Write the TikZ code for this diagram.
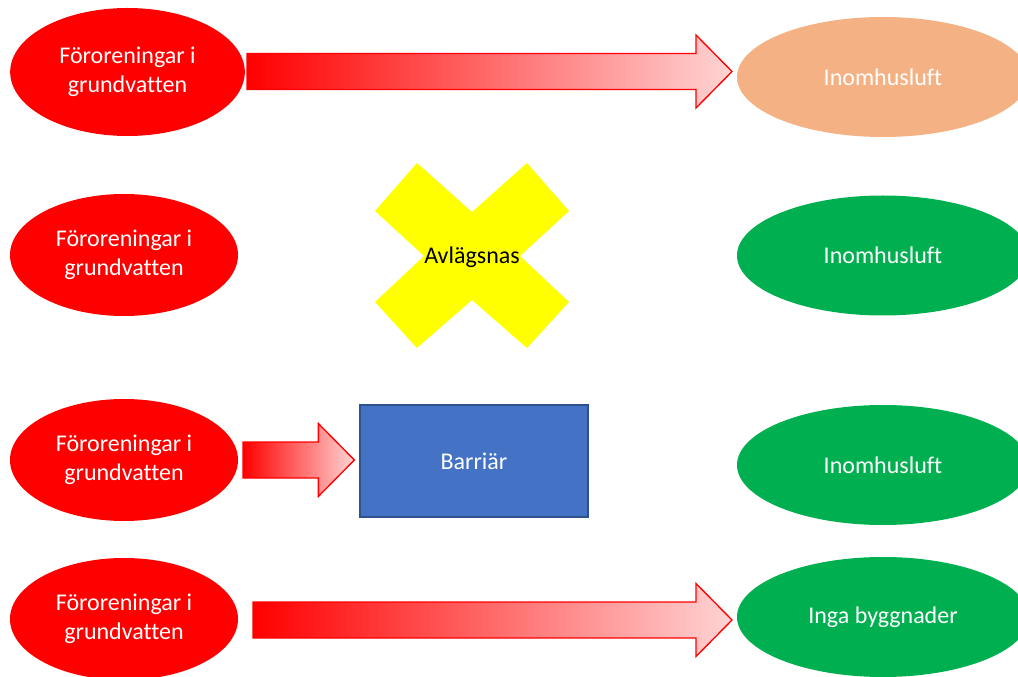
\documentclass[tikz,border=0pt]{standalone}
\usepackage{fontspec}
\setmainfont{Carlito}[Ligatures=NoCommon]
\usetikzlibrary{shapes.geometric,calc}

\definecolor{pptred}{HTML}{FF0000}
\definecolor{pptorange}{HTML}{F4B183}
\definecolor{pptgreen}{HTML}{00B050}
\definecolor{pptblue}{HTML}{4472C4}
\definecolor{pptblueline}{HTML}{2F528F}
\definecolor{pptyellow}{HTML}{FFFF00}

% block arrow from a start coordinate to a tip coordinate
\newcommand{\blockarrow}[2]{%
  \path[blockarr] ($(#1)+(0,-18)$) -- ($(#2)+(-36,-18)$) -- ($(#2)+(-36,-36.5)$) -- (#2)
    -- ($(#2)+(-36,36.5)$) -- ($(#2)+(-36,18)$) -- ($(#1)+(0,18)$) -- cycle ;}

\begin{document}
\begin{tikzpicture}[x=0.75pt,y=0.75pt,yscale=-1,xscale=1,
	txt/.style={font=\fontsize{18}{21.75}\selectfont,align=center,inner sep=0pt},
	source/.style={txt,ellipse,fill=pptred,text=white,minimum width=171pt,minimum height=91.5pt},
	target/.style={txt,ellipse,fill=pptgreen,text=white,minimum width=219pt,minimum height=90pt},
	blockarr/.style={draw=pptred,line width=1pt,left color=pptred,right color=pptred!17}]
		\useasboundingbox (0,0) rectangle (1018,677);
		\clip (0,0) rectangle (1018,677);
		
		%Shape: Ellipse [row 1]
		\node[source,minimum width=176pt,minimum height=96pt] (src1) at (127.5,72) {Föroreningar i\\grundvatten};
		\node[target,fill=pptorange] (tgt1) at (883,77) {Inomhusluft};
		\coordinate (a1s) at (247,71.5);
		\coordinate (a1e) at (732,71.5);
		\blockarrow{a1s}{a1e}
		
		%Shape: Ellipse [row 2]
		\node[source] (src2) at (124,255) {Föroreningar i\\grundvatten};
		\node[target] (tgt2) at (883,255.5) {Inomhusluft};
		%Shape: Multiply
		\fill[pptyellow] (375,211) -- (417,163) -- (472,212) -- (527,163) -- (569,211) -- (520,256)
			-- (569,302) -- (527,348) -- (472,300) -- (417,348) -- (375,302) -- (424,256) -- cycle ;
		% Text Node
		\node[txt] (removed) at (472,257) {Avlägsnas};
		
		%Shape: Ellipse [row 3]
		\node[source] (src3) at (124,460) {Föroreningar i\\grundvatten};
		\node[target] (tgt3) at (883,465) {Inomhusluft};
		%Shape: Rectangle
		\node[txt,draw=pptblueline,line width=1pt,fill=pptblue,text=white,minimum width=171pt,minimum height=84pt] (barrier) at (474,461) {Barriär};
		\coordinate (a3s) at (243,460);
		\coordinate (a3e) at ($(barrier.west)+(-5,-1)$);
		\blockarrow{a3s}{a3e}
		
		%Shape: Ellipse [row 4]
		\node[source] (src4) at (124,619) {Föroreningar i\\grundvatten};
		\node[target] (tgt4) at (883,617) {Inga byggnader};
		\coordinate (a4s) at (253,620);
		\coordinate (a4e) at (732,620);
		\blockarrow{a4s}{a4e}
		
\end{tikzpicture}
\end{document}
